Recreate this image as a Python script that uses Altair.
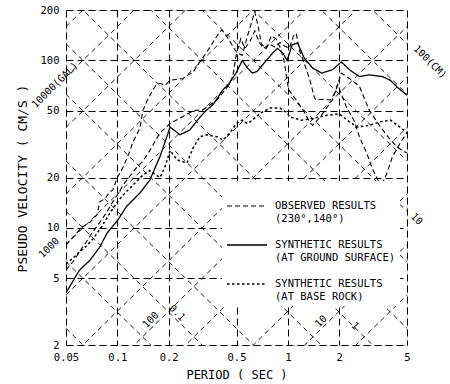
import altair as alt
import pandas as pd
import numpy as np

# ---------------- data ----------------
SERIES = [
    "OBSERVED RESULTS|(230°,140°)",
    "SYNTHETIC RESULTS|(AT GROUND SURFACE)",
    "SYNTHETIC RESULTS|(AT BASE ROCK)",
]

# observed, first component
obs_a_T = [0.05, 0.056, 0.062, 0.069, 0.076, 0.079, 0.085, 0.09, 0.094, 0.1, 0.108, 0.119,
           0.123, 0.13, 0.136, 0.141, 0.15, 0.162, 0.17, 0.178, 0.19, 0.204, 0.22, 0.243,
           0.26, 0.278, 0.305, 0.33, 0.35, 0.375, 0.4, 0.41, 0.44, 0.47, 0.5, 0.54, 0.58,
           0.62, 0.64, 0.67, 0.7, 0.75, 0.8, 0.85, 0.9, 0.95, 1.01, 1.12, 1.23, 1.35, 1.4,
           1.55, 1.7, 1.83, 1.96, 2.2, 2.44, 2.63, 2.9, 3.15, 3.4, 3.6, 3.8, 4.1, 4.55, 5.0]
obs_a_V = [7.9, 9.0, 10.1, 10.8, 12, 14.3, 15, 16.4, 16.8, 20, 23, 29,
           32.4, 36, 40, 50, 58, 67, 72, 73, 71, 76, 77, 78,
           82, 85, 98, 110, 120, 135, 148, 152, 138, 124, 112, 107, 140,
           175, 195, 160, 125, 118, 140, 135, 120, 100, 67, 58, 50.5, 42.5, 41,
           46, 52.6, 58, 72, 53, 44, 35, 28, 22.3, 19, 18.6, 21, 26.5, 32, 37]

# observed, second component
obs_b_T = [0.05, 0.055, 0.06, 0.066, 0.072, 0.079, 0.087, 0.094, 0.101, 0.108, 0.119, 0.13,
           0.141, 0.155, 0.178, 0.204, 0.24, 0.278, 0.32, 0.384, 0.44, 0.475, 0.5, 0.53,
           0.56, 0.6, 0.64, 0.68, 0.72, 0.78, 0.84, 0.9, 0.96, 1.02, 1.08, 1.12, 1.17,
           1.23, 1.35, 1.43, 1.47, 1.6, 1.78, 1.9, 2.06, 2.3, 2.63, 3.0, 3.5, 4.0, 4.4,
           4.7, 5.0]
obs_b_V = [5.6, 6.3, 7.2, 8.3, 9.5, 10.8, 12.5, 14.3, 16, 18, 20.5, 23,
           25, 29, 37, 42, 46, 50, 51, 58, 69, 80, 110, 135,
           118, 130, 150, 128, 118, 125, 120, 128, 122, 118, 140, 145, 115,
           100, 76, 60, 58, 58.5, 58, 65, 84, 78, 70, 50.5, 40, 33.5, 30.3,
           29, 28]

# synthetic at ground surface
ground_T = [0.05, 0.06, 0.069, 0.079, 0.087, 0.101, 0.113, 0.136, 0.155, 0.178, 0.204,
            0.233, 0.266, 0.305, 0.33, 0.367, 0.417, 0.45, 0.5, 0.54, 0.58, 0.62, 0.66,
            0.73, 0.81, 0.87, 0.94, 0.99, 1.06, 1.14, 1.25, 1.40, 1.58, 1.83, 2.06, 2.3,
            2.63, 3.0, 3.6, 4.0, 4.4, 5.0]
ground_V = [4.1, 5.6, 6.4, 7.7, 9.3, 11.2, 13.4, 16.2, 19.3, 26.7, 40,
            36, 38.4, 45.8, 50, 55, 67, 72, 85, 100, 90, 84, 86,
            97, 110, 118, 110, 100, 124, 127, 103, 90, 84, 88, 98, 88,
            80, 82, 80, 76, 69, 62]

# synthetic at base rock
base_T = [0.05, 0.055, 0.06, 0.066, 0.072, 0.079, 0.087, 0.094, 0.101, 0.11, 0.12, 0.13,
          0.14, 0.155, 0.165, 0.178, 0.19, 0.204, 0.224, 0.256, 0.278, 0.305, 0.336,
          0.384, 0.417, 0.458, 0.5, 0.54, 0.58, 0.62, 0.69, 0.79, 0.9, 0.99, 1.03, 1.2,
          1.4, 1.7, 2.0, 2.3, 2.56, 3.0, 3.5, 4.0, 4.55, 5.0]
base_V = [6.1, 6.6, 7.2, 7.8, 8.6, 9.8, 11.5, 13, 14.5, 16, 17.5, 19,
          20.5, 22, 21, 20, 23, 29, 25.5, 24.4, 30, 35, 36,
          35, 33.5, 37, 42, 44, 42, 44, 48.5, 52, 52, 48.5, 46, 44,
          45, 47, 48, 43, 40, 41, 43, 44, 40, 37]

# tripartite grid values
accel_gal = [5, 10, 20, 50, 100, 200, 500, 1000, 2000, 5000, 10000, 20000]
disp_cm = [0.02, 0.05, 0.1, 0.2, 0.5, 1, 2, 5, 10, 20, 50, 100]

# labels of the diagonal scales
diag_text = ["10000(GAL)", "1000", "100", "10", "0.1", "1", "10", "100(CM)"]
diag_T = [0.0431, 0.0398, 0.157, 1.57, 0.224, 2.48, 5.7, 6.83]
diag_V = [71.3, 7.59, 2.82, 2.77, 3.1, 2.6, 11.3, 97.8]
diag_angle = [315, 315, 315, 315, 45, 45, 45, 45]

x_ticks = [0.05, 0.1, 0.2, 0.5, 1, 2, 5]
y_ticks = [2, 5, 10, 20, 50, 100, 200]

# ---------------- tables ----------------
rows = []
for series, comp, Ts, Vs in [
    (SERIES[0], "230", obs_a_T, obs_a_V),
    (SERIES[0], "140", obs_b_T, obs_b_V),
    (SERIES[1], "ground", ground_T, ground_V),
    (SERIES[2], "base", base_T, base_V),
]:
    for t, v in zip(Ts, Vs):
        rows.append({"series": series, "comp": comp, "T": t, "V": v})
curves = pd.DataFrame(rows)

grid_rows = []
for a in accel_gal:
    for t in (x_ticks[0], x_ticks[-1]):
        grid_rows.append({"key": f"A{a}", "T": t, "V": a * t / (2 * np.pi)})
for d in disp_cm:
    for t in (x_ticks[0], x_ticks[-1]):
        grid_rows.append({"key": f"D{d}", "T": t, "V": 2 * np.pi * d / t})
diag = pd.DataFrame(grid_rows)

labels = pd.DataFrame({"text": diag_text, "T": diag_T, "V": diag_V, "angle": diag_angle})

FONT = "DejaVu Sans Mono"

xscale = alt.Scale(type="log", domain=[x_ticks[0], x_ticks[-1]], nice=False)
yscale = alt.Scale(type="log", domain=[y_ticks[0], y_ticks[-1]], nice=False)

x_axis = alt.Axis(values=x_ticks, format="~g", grid=True, gridDash=[7, 4], gridColor="black",
                  gridWidth=1, gridOpacity=1, domain=False, ticks=False, labelFlush=False,
                  labelOverlap=False, labelFont=FONT, labelFontSize=10.5, labelColor="black",
                  labelPadding=7, title="PERIOD ( SEC )", titleFont=FONT, titleFontSize=12,
                  titleFontWeight="normal", titleColor="black", titleX=170.5, titleY=29,
                  titleBaseline="middle", titleAlign="center")
y_axis = alt.Axis(values=y_ticks, format="~g", grid=True, gridDash=[7, 4], gridColor="black",
                  gridWidth=1, gridOpacity=1, domain=False, ticks=False, labelFlush=False,
                  labelOverlap=False, labelFont=FONT, labelFontSize=10.5, labelColor="black",
                  labelPadding=7, title="PSEUDO VELOCITY ( CM/S )", titleFont=FONT,
                  titleFontSize=13, titleFontWeight="normal", titleColor="black",
                  titleX=-44, titleY=168, titleAngle=270, titleBaseline="middle",
                  titleAlign="center")

X = alt.X("T:Q", scale=xscale, axis=x_axis)
Y = alt.Y("V:Q", scale=yscale, axis=y_axis)

diag_layer = alt.Chart(diag).mark_line(clip=True, color="black", strokeWidth=0.9,
                                       strokeDash=[5, 4]).encode(
    x=X, y=Y, detail="key:N")

curve_layer = alt.Chart(curves).mark_line(clip=True, color="black").encode(
    x=X, y=Y,
    detail="comp:N",
    strokeDash=alt.StrokeDash(
        "series:N",
        scale=alt.Scale(domain=SERIES, range=[[5, 3], [1, 0], [2.5, 2.5]]),
        legend=alt.Legend(
            title=None, orient="none", legendX=156, legendY=171, fillColor="white",
            padding=4, symbolType="stroke", symbolSize=1600, symbolStrokeColor="black",
            labelExpr="split(datum.label, '|')", labelFont=FONT, labelFontSize=10.5,
            labelColor="black", labelLimit=0, labelOffset=7, rowPadding=-1,
            labelBaseline="middle"),
    ),
    strokeWidth=alt.StrokeWidth(
        "series:N",
        scale=alt.Scale(domain=SERIES, range=[1.1, 1.5, 1.1]),
        legend=None,
    ),
)

text_layer = alt.Chart(labels).mark_text(font=FONT, fontSize=10, color="black").encode(
    x=X, y=Y, text="text:N", angle=alt.Angle("angle:Q", scale=None))

chart = alt.layer(diag_layer, curve_layer, text_layer).properties(
    width=341, height=335,
    autosize=alt.AutoSizeParams(type="none"),
    padding={"left": 66, "top": 10, "right": 43, "bottom": 39},
).configure_view(stroke="black", strokeWidth=1.5).configure(background="white")

chart.save("out.html", embed_options={"renderer": "svg", "actions": False})
